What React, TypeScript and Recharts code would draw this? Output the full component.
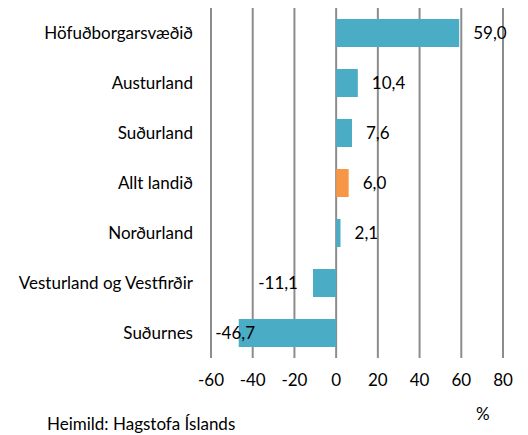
import { BarChart, Bar, XAxis, YAxis, CartesianGrid, Cell, LabelList } from "recharts";

const regions = [
  "Höfuðborgarsvæðið",
  "Austurland",
  "Suðurland",
  "Allt landið",
  "Norðurland",
  "Vesturland og Vestfirðir",
  "Suðurnes",
];
const change = [59.0, 10.4, 7.6, 6.0, 2.1, -11.1, -46.7];
const xTicks = [-60, -40, -20, 0, 20, 40, 60, 80];

const BLUE = "#4BACC6";
const ORANGE = "#F79646";
const FONT = "Lato, 'Open Sans', sans-serif";
const FS = 17;
const PLOT_LEFT = 211;

const data = regions.map((name, i) => ({ name, value: change[i] }));

const fmt = (v: number) => v.toFixed(1).replace(".", ",");

function ValueLabel(props: any) {
  const { x, y, width, height, value } = props;
  const left = Math.min(x, x + width);
  const right = Math.max(x, x + width);
  const cy = y + height / 2;
  const txt = fmt(Number(value));
  if (value >= 0) {
    return (
      <text x={right + 14} y={cy} dy="0.35em" textAnchor="start" fontSize={FS} fill="#000" fontFamily={FONT}>
        {txt}
      </text>
    );
  }
  const approxW = txt.length * 8;
  let tx = left - 15;
  if (tx - approxW < PLOT_LEFT + 4) tx = PLOT_LEFT + 4 + approxW;
  return (
    <text x={tx} y={cy} dy="0.35em" textAnchor="end" fontSize={FS} fill="#000" fontFamily={FONT}>
      {txt}
    </text>
  );
}

export default function App() {
  return (
    <div style={{ position: "absolute", left: 0, top: 0, width: 528, height: 435, background: "#fff", fontFamily: FONT }}>
      <BarChart
        width={528}
        height={435}
        data={data}
        layout="vertical"
        margin={{ top: 8, right: 25, left: 0, bottom: 47 }}
      >
        <CartesianGrid horizontal={false} vertical stroke="#8c8c8c" strokeWidth={2} />
        <XAxis
          type="number"
          domain={[-60, 80]}
          ticks={xTicks}
          axisLine={false}
          tickLine={false}
          tickSize={0}
          tickMargin={16}
          height={30}
          tick={{ fontSize: FS, fill: "#000", fontFamily: FONT }}
          interval={0}
        />
        <YAxis
          type="category"
          dataKey="name"
          width={211}
          axisLine={false}
          tickLine={false}
          tickSize={0}
          tickMargin={18}
          tick={{ fontSize: FS, fill: "#000", fontFamily: FONT }}
          interval={0}
        />
        <Bar dataKey="value" barSize={28} isAnimationActive={false}>
          {data.map((d, i) => (
            <Cell key={i} fill={d.name === "Allt landið" ? ORANGE : BLUE} />
          ))}
          <LabelList dataKey="value" content={ValueLabel} />
        </Bar>
      </BarChart>
      <div style={{ position: "absolute", left: 476, top: 403, fontSize: FS }}>%</div>
      <div style={{ position: "absolute", left: 47, top: 413, fontSize: FS }}>Heimild: Hagstofa Íslands</div>
    </div>
  );
}
